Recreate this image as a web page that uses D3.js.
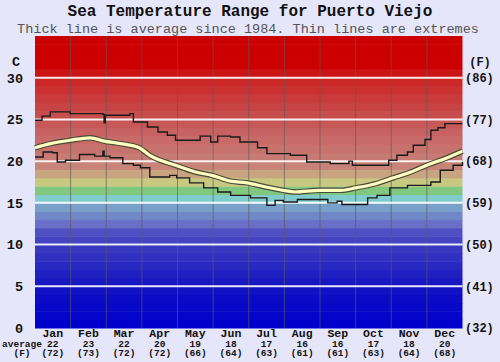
<!DOCTYPE html>
<html><head><meta charset="utf-8">
<script src="https://cdn.jsdelivr.net/npm/d3@7"></script>
<style>
html,body{margin:0;padding:0;background:#e6e6fa;}
svg{display:block;}
text{font-family:"Liberation Mono","Courier New",monospace;}
</style></head>
<body>
<svg id="chart" width="500" height="362"></svg>
<script>
// ---- data (day of year, °C) ----
const months = ["Jan","Feb","Mar","Apr","May","Jun","Jul","Aug","Sep","Oct","Nov","Dec"];
const avgC = [22,23,22,20,19,18,17,16,16,17,18,20];
const avgF = [72,73,72,72,66,64,63,61,61,63,64,68];
const cTicks = [0,5,10,15,20,25,30];
const fTicks = [32,41,50,59,68,77,86];

const averageLine = [[0,21.6],[13,22.1],[30,22.5],[47,22.8],[59,22.4],[73,22.1],[89,21.6],[98,20.7],
  [120,19.5],[137,18.7],[151,18.3],[167,17.6],[181,17.4],[197,16.9],[212,16.5],[222,16.3],
  [243,16.5],[261,16.5],[274,16.8],[291,17.3],[306,18.0],[321,18.7],[336,19.6],[350,20.3],[365,21.2]];

const upperLine = [[0,24.9],[6,25.4],[13,25.9],[30,25.7],[58,25.6],[59,24.6],[60,25.5],[81,25.7],
  [84,24.7],[96,24.1],[105,23.5],[113,23.1],[120,22.5],[141,23.0],[150,22.3],[156,23.0],
  [167,22.9],[175,22.3],[190,21.6],[198,20.9],[218,20.7],[232,19.9],[252,19.7],[268,20.0],
  [271,19.5],[302,20.1],[309,20.7],[318,21.1],[323,21.9],[333,22.6],[338,23.7],[344,24.0],[350,24.5],[365,24.5]];

const lowerLine = [[0,20.5],[7,21.1],[15,21.0],[19,19.9],[26,20.1],[38,20.8],[51,20.6],[58,21.2],
  [59,20.6],[64,20.4],[75,19.7],[84,19.5],[90,19.2],[98,18.1],[115,18.3],[121,18.0],[132,17.4],
  [144,16.8],[156,16.3],[167,15.9],[184,15.6],[198,14.7],[205,15.3],[212,15.1],[224,15.4],
  [250,15.0],[258,15.2],[262,14.8],[284,15.6],[292,15.9],[303,16.8],[318,17.1],[338,17.5],
  [346,18.9],[357,19.5],[365,19.9]];

// ---- layout ----
const svg = d3.select("#chart");
const L = 35, R = 462.5, T = 36, B = 328;
const x = d3.scaleLinear().domain([0,365]).range([L,R]);
const y = d3.scaleLinear().domain([0,35]).range([B,T]);

// colour ramp for 1°C bands
const stops = [
  [0,"#0000cc"],[4,"#1010c4"],[9,"#3838c0"],[11,"#5050c4"],[12,"#6a70c8"],[13,"#7088c8"],[14,"#78a0c8"],
  [15,"#80cccc"],[16,"#80c880"],[17,"#c8c880"],[18,"#c8a480"],[19,"#c88478"],[20,"#c87a74"],
  [23,"#c86262"],[26,"#c84444"],[29,"#cc2828"],[31,"#cc0000"],[35,"#cc0000"]];
const colour = d3.scaleLinear().domain(stops.map(s=>s[0])).range(stops.map(s=>s[1])).interpolate(d3.interpolateRgb);

const bands = d3.range(0,35);
svg.append("g").selectAll("rect").data(bands).join("rect")
  .attr("x", L).attr("width", R-L)
  .attr("y", d=>y(d+1)).attr("height", d=>y(d)-y(d+1)+0.5)
  .attr("fill", d=>colour(d));

// month separators
svg.append("g").selectAll("line").data(d3.range(1,12)).join("line")
  .attr("x1", d=>x(d*365/12)).attr("x2", d=>x(d*365/12))
  .attr("y1", T).attr("y2", B)
  .attr("stroke","#5a5a5a").attr("stroke-opacity",0.65).attr("stroke-width",1);

// horizontal white grid
svg.append("g").selectAll("line").data(cTicks.filter(d=>d>0)).join("line")
  .attr("x1", L).attr("x2", R).attr("y1", d=>y(d)).attr("y2", d=>y(d))
  .attr("stroke","#fff").attr("stroke-opacity",0.9).attr("stroke-width",2);

// lines
const stepGen = d3.line().x(d=>x(d[0])).y(d=>y(d[1])).curve(d3.curveStepAfter);
const smoothGen = d3.line().x(d=>x(d[0])).y(d=>y(d[1])).curve(d3.curveMonotoneX);

svg.append("path").datum(upperLine).attr("d", stepGen).attr("fill","none").attr("stroke","#1a1a1a").attr("stroke-width",1.4);
svg.append("path").datum(lowerLine).attr("d", stepGen).attr("fill","none").attr("stroke","#1a1a1a").attr("stroke-width",1.4);
svg.append("path").datum(averageLine).attr("d", smoothGen).attr("fill","none").attr("stroke","#4a4a3a").attr("stroke-width",5.5);
svg.append("path").datum(averageLine).attr("d", smoothGen).attr("fill","none").attr("stroke","#ffffc0").attr("stroke-width",3.2);

// titles
svg.append("text").attr("x",250).attr("y",15.5).attr("text-anchor","middle")
  .attr("font-size",16).attr("font-weight","bold").attr("fill","#111")
  .text("Sea Temperature Range for Puerto Viejo");
svg.append("text").attr("x",248).attr("y",32.5).attr("text-anchor","middle")
  .attr("font-size",13.5).attr("fill","#555")
  .text("Thick line is average since 1984. Thin lines are extremes");

// left axis
const leftAxis = svg.append("g");
leftAxis.selectAll("text").data(cTicks).join("text")
  .attr("x",23).attr("y",d=>y(d)).attr("dy","0.36em").attr("text-anchor","end")
  .attr("font-size",13.5).attr("font-weight","bold").attr("fill","#111")
  .text(d=>d);
leftAxis.append("text").attr("x",16).attr("y",61).attr("dy","0.36em").attr("text-anchor","middle")
  .attr("font-size",13.5).attr("font-weight","bold").attr("fill","#111").text("C");

// right axis
const rightAxis = svg.append("g");
rightAxis.selectAll("text").data(fTicks).join("text")
  .attr("x",465).attr("y",(d,i)=>y(cTicks[i])).attr("dy","0.36em").attr("text-anchor","start")
  .attr("font-size",12).attr("font-weight","bold").attr("fill","#111")
  .text(d=>"("+d+")");
rightAxis.append("text").attr("x",480).attr("y",62).attr("dy","0.36em").attr("text-anchor","middle")
  .attr("font-size",12).attr("font-weight","bold").attr("fill","#111").text("(F)");

// bottom table
const bottom = svg.append("g").attr("font-weight","bold").attr("fill","#111").attr("text-anchor","middle");
const mc = i => x((i+0.5)*365/12);
bottom.selectAll(".m").data(months).join("text").attr("class","m")
  .attr("x",(d,i)=>mc(i)).attr("y",337).attr("font-size",11.5).text(d=>d);
bottom.selectAll(".c").data(avgC).join("text").attr("class","c")
  .attr("x",(d,i)=>mc(i)).attr("y",346.5).attr("font-size",9.5).text(d=>d);
bottom.selectAll(".f").data(avgF).join("text").attr("class","f")
  .attr("x",(d,i)=>mc(i)).attr("y",356).attr("font-size",9.5).text(d=>"("+d+")");
bottom.append("text").attr("x",22).attr("y",346.5).attr("font-size",9.5).text("average");
bottom.append("text").attr("x",22).attr("y",356).attr("font-size",9.5).text("(F)");
</script>
</body></html>
